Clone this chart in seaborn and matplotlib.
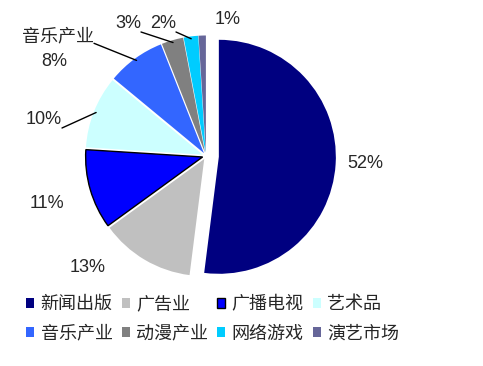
"""
Pie of industry shares with an exploded leading slice and a 2x4 legend below.
"""

import numpy as np
import matplotlib
matplotlib.use("Agg")
import matplotlib.pyplot as plt
import seaborn as sns

# data
CATEGORIES = ["新闻出版", "广告业", "广播电视", "艺术品", "音乐产业", "动漫产业", "网络游戏", "演艺市场"]
SHARES = [52, 13, 11, 10, 8, 3, 2, 1]
COLORS = ["#000080", "#C0C0C0", "#0000FF", "#CCFFFF", "#3366FF", "#808080", "#00CCFF", "#666699"]
EXPLODE = [0.11, 0.03, 0.03, 0.03, 0.03, 0.03, 0.03, 0.03]

sns.set_theme(style="white")
plt.rcParams["font.family"] = ["Liberation Sans", "Noto Sans CJK SC", "DejaVu Sans"]

W, H = 483, 366
fig = plt.figure(figsize=(W / 100, H / 100), dpi=100)
ax = fig.add_axes([0, 0, 1, 1])

R = 117
palette = sns.color_palette(COLORS)
# pie's explode is in data units, so scale the fractions by the radius
wedges, _ = ax.pie(
    SHARES,
    colors=palette,
    explode=[e * R for e in EXPLODE],
    startangle=90,
    counterclock=False,
    radius=R,
    center=(206, H - 156),
    frame=True,
    wedgeprops=dict(linewidth=0),
)
ax.set_xlim(0, W)
ax.set_ylim(0, H)
ax.set_aspect("equal")
ax.axis("off")
wedges[2].set_edgecolor("black")
wedges[2].set_linewidth(1.0)


def edge_point(w, frac=1.0):
    mid = np.deg2rad((w.theta1 + w.theta2) / 2)
    cx, cy = w.center
    return cx + w.r * frac * np.cos(mid), cy + w.r * frac * np.sin(mid)


fs = 13
labels = [f"{v}%" for v in SHARES]

# labels without leader lines
ax.text(365, H - 163, labels[0], fontsize=fs, ha="center", va="center")
ax.text(88, H - 267, labels[1], fontsize=fs, ha="center", va="center")
ax.text(47, H - 203, labels[2], fontsize=fs, ha="center", va="center")
ax.text(228, H - 20, labels[7], fontsize=fs, ha="center", va="center")
ax.text(54, H - 61, labels[4], fontsize=fs, ha="center", va="center")

# labels with leader lines
line = dict(arrowstyle="-", color="black", lw=1.0, shrinkA=0, shrinkB=0)
ax.annotate(labels[3], xy=edge_point(wedges[3], 0.98), xytext=(62, H - 128),
            fontsize=fs, ha="right", va="bottom",
            arrowprops=dict(line, relpos=(1, 0), patchA=None))
ax.annotate(CATEGORIES[4], xy=edge_point(wedges[4], 0.98),
            xytext=(94, H - 45), fontsize=13, ha="right", va="bottom",
            arrowprops=dict(line, relpos=(1, 0.1), patchA=None))
ax.annotate(labels[5], xy=edge_point(wedges[5], 0.98), xytext=(141, H - 32),
            fontsize=fs, ha="right", va="bottom",
            arrowprops=dict(line, relpos=(1, 0), patchA=None))
ax.annotate(labels[6], xy=edge_point(wedges[6], 0.98), xytext=(176, H - 32),
            fontsize=fs, ha="right", va="bottom",
            arrowprops=dict(line, relpos=(1, 0), patchA=None))

# legend is filled row by row in the reference
order = [0, 4, 1, 5, 2, 6, 3, 7]
fig.legend(
    [wedges[i] for i in order],
    [CATEGORIES[i] for i in order],
    loc="upper left",
    bbox_to_anchor=(19 / W, 1 - 289 / H),
    ncol=4,
    frameon=False,
    fontsize=13,
    handlelength=0.45,
    handleheight=0.45,
    handletextpad=0.35,
    columnspacing=0.5,
    labelspacing=0.68,
    borderaxespad=0,
)

fig.savefig("out.png", dpi=100)
